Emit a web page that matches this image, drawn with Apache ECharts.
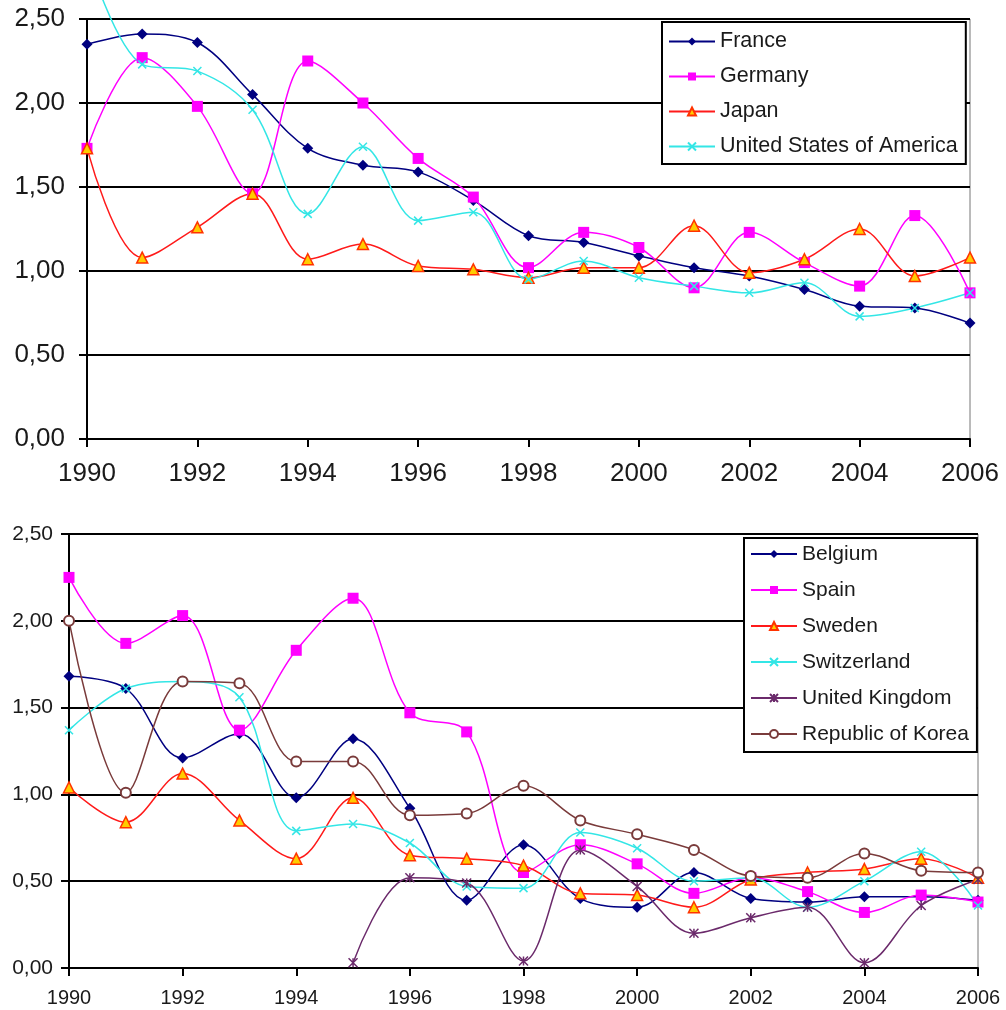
<!DOCTYPE html>
<html>
<head>
<meta charset="utf-8">
<script src="https://cdn.jsdelivr.net/npm/echarts@6/dist/echarts.min.js"></script>
<style>
  html, body { margin: 0; padding: 0; background: #fff; }
  #chart { width: 1006px; height: 1010px; }
</style>
</head>
<body>
<div id="chart"></div>
<script>
// years on the x axis (shared by both panels)
const years = [1990, 1991, 1992, 1993, 1994, 1995, 1996, 1997, 1998, 1999, 2000, 2001, 2002, 2003, 2004, 2005, 2006];

// top panel
const france  = [2.35, 2.41, 2.36, 2.05, 1.73, 1.63, 1.59, 1.42, 1.21, 1.17, 1.09, 1.02, 0.97, 0.89, 0.79, 0.78, 0.69];
const germany = [1.73, 2.27, 1.98, 1.46, 2.25, 2.00, 1.67, 1.44, 1.02, 1.23, 1.14, 0.90, 1.23, 1.05, 0.91, 1.33, 0.87];
const japan   = [1.73, 1.08, 1.26, 1.46, 1.07, 1.16, 1.03, 1.01, 0.96, 1.02, 1.02, 1.27, 0.99, 1.07, 1.25, 0.97, 1.08];
const usa     = [2.88, 2.23, 2.19, 1.96, 1.34, 1.74, 1.30, 1.35, 0.95, 1.06, 0.96, 0.91, 0.87, 0.93, 0.73, 0.78, 0.87];

// bottom panel
const belgium     = [1.68, 1.61, 1.21, 1.35, 0.98, 1.32, 0.92, 0.39, 0.71, 0.40, 0.35, 0.55, 0.40, 0.38, 0.41, 0.41, 0.39];
const spain       = [2.25, 1.87, 2.03, 1.37, 1.83, 2.13, 1.47, 1.36, 0.55, 0.71, 0.60, 0.43, 0.52, 0.44, 0.32, 0.42, 0.38];
const sweden      = [1.04, 0.84, 1.12, 0.85, 0.63, 0.98, 0.65, 0.63, 0.59, 0.43, 0.42, 0.35, 0.51, 0.55, 0.57, 0.63, 0.52];
const switzerland = [1.37, 1.61, 1.65, 1.56, 0.79, 0.83, 0.72, 0.47, 0.46, 0.78, 0.69, 0.50, 0.52, 0.35, 0.50, 0.67, 0.36];
const uk          = [null, null, null, null, null, 0.03, 0.52, 0.49, 0.04, 0.68, 0.47, 0.20, 0.29, 0.35, 0.03, 0.36, 0.51];
const korea       = [2.00, 1.01, 1.65, 1.64, 1.19, 1.19, 0.88, 0.89, 1.05, 0.85, 0.77, 0.68, 0.53, 0.52, 0.66, 0.56, 0.55];

const FONT = "'Liberation Sans', Arial, sans-serif";
const xMark = 'path://M0,0L10,10M10,0L0,10';
const starMark = 'path://M0,0L10,10M10,0L0,10M5,0L5,10';

function pairs(vals) {
    return years.map((y, i) => [y, vals[i]]).filter(p => p[1] !== null);
}

const fmt = v => v.toFixed(2).replace('.', ',');

function makeXAxis(idx, fontSize, margin) {
    return {
        type: 'value', gridIndex: idx, min: 1990, max: 2006, interval: 2,
        axisLine: { lineStyle: { color: '#000', width: 2 } },
        axisTick: { show: true, length: 8, lineStyle: { color: '#000', width: 2 } },
        axisLabel: { fontFamily: FONT, fontSize: fontSize, color: '#1a1a1a', margin: margin, formatter: v => String(v) },
        splitLine: { show: false }
    };
}

function makeYAxis(idx, fontSize, margin) {
    return {
        type: 'value', gridIndex: idx, min: 0, max: 2.5, interval: 0.5,
        axisLine: { show: true, lineStyle: { color: '#000', width: 2 } },
        axisTick: { show: true, length: 8, lineStyle: { color: '#000', width: 2 } },
        axisLabel: { fontFamily: FONT, fontSize: fontSize, color: '#1a1a1a', margin: margin, formatter: fmt },
        splitLine: { show: true, lineStyle: { color: '#000', width: 2 } }
    };
}

function line(name, vals, idx, opts) {
    return Object.assign({
        name: name,
        type: 'line',
        xAxisIndex: idx,
        yAxisIndex: idx,
        data: pairs(vals),
        smooth: 0.35,
        symbolSize: 9,
        lineStyle: { width: 1.5, color: opts.lineColor },
        itemStyle: opts.itemStyle,
        emphasis: { disabled: true },
        z: 3
    }, opts.extra || {});
}

const chart = echarts.init(document.getElementById('chart'), null, { renderer: 'canvas' });

const option = {
    backgroundColor: '#fff',
    animation: false,
    grid: [
        { left: 87, top: 19, width: 883, height: 420, show: true, borderColor: '#777', borderWidth: 1, backgroundColor: 'transparent' },
        { left: 69, top: 534, width: 909, height: 434, show: true, borderColor: '#777', borderWidth: 1, backgroundColor: 'transparent' }
    ],
    xAxis: [makeXAxis(0, 26, 22), makeXAxis(1, 20, 20)],
    yAxis: [makeYAxis(0, 26, 22), makeYAxis(1, 21, 16)],
    legend: [
        {
            data: ['France', 'Germany', 'Japan', 'United States of America'],
            orient: 'vertical', left: 662, top: 22,
            itemWidth: 46, itemHeight: 10, itemGap: 12,
            padding: [8, 8, 6, 6],
            backgroundColor: '#fff', borderColor: '#000', borderWidth: 2,
            textStyle: { fontFamily: FONT, fontSize: 21.5, color: '#1a1a1a', lineHeight: 23 },
            selectedMode: false
        },
        {
            data: ['Belgium', 'Spain', 'Sweden', 'Switzerland', 'United Kingdom', 'Republic of Korea'],
            orient: 'vertical', left: 744, top: 538,
            itemWidth: 46, itemHeight: 10, itemGap: 12,
            padding: [4, 8, 6, 6],
            backgroundColor: '#fff', borderColor: '#000', borderWidth: 2,
            textStyle: { fontFamily: FONT, fontSize: 21, color: '#1a1a1a', lineHeight: 24 },
            selectedMode: false
        }
    ],
    series: [
        line('France', france, 0, { lineColor: '#000080', itemStyle: { color: '#000080' }, extra: { symbol: 'diamond', symbolSize: 11 } }),
        line('Germany', germany, 0, { lineColor: '#ff00ff', itemStyle: { color: '#ff00ff' }, extra: { symbol: 'rect', symbolSize: 11 } }),
        line('Japan', japan, 0, { lineColor: '#ff1a1a', itemStyle: { color: '#ffcc00', borderColor: '#ff3300', borderWidth: 1.5 }, extra: { symbol: 'triangle', symbolSize: 11 } }),
        line('United States of America', usa, 0, { lineColor: '#33e6e6', itemStyle: { color: '#33e6e6', borderColor: '#33e6e6', borderWidth: 1.5 }, extra: { symbol: xMark, symbolSize: 8, clip: false } }),

        line('Belgium', belgium, 1, { lineColor: '#000080', itemStyle: { color: '#000080' }, extra: { symbol: 'diamond', symbolSize: 11 } }),
        line('Spain', spain, 1, { lineColor: '#ff00ff', itemStyle: { color: '#ff00ff' }, extra: { symbol: 'rect', symbolSize: 11 } }),
        line('Sweden', sweden, 1, { lineColor: '#ff1a1a', itemStyle: { color: '#ffcc00', borderColor: '#ff3300', borderWidth: 1.5 }, extra: { symbol: 'triangle', symbolSize: 11 } }),
        line('Switzerland', switzerland, 1, { lineColor: '#33e6e6', itemStyle: { color: '#33e6e6', borderColor: '#33e6e6', borderWidth: 1.5 }, extra: { symbol: xMark, symbolSize: 8 } }),
        line('United Kingdom', uk, 1, { lineColor: '#6b2a6b', itemStyle: { color: '#6b2a6b', borderColor: '#6b2a6b', borderWidth: 1.5 }, extra: { symbol: starMark, symbolSize: 9 } }),
        line('Republic of Korea', korea, 1, { lineColor: '#7a3b3b', itemStyle: { color: '#7a3b3b', borderColor: '#7a3b3b', borderWidth: 1.2 }, extra: { symbol: 'emptyCircle', symbolSize: 10 } })
    ]
};

chart.setOption(option);
window.addEventListener('resize', () => chart.resize());
</script>
</body>
</html>
